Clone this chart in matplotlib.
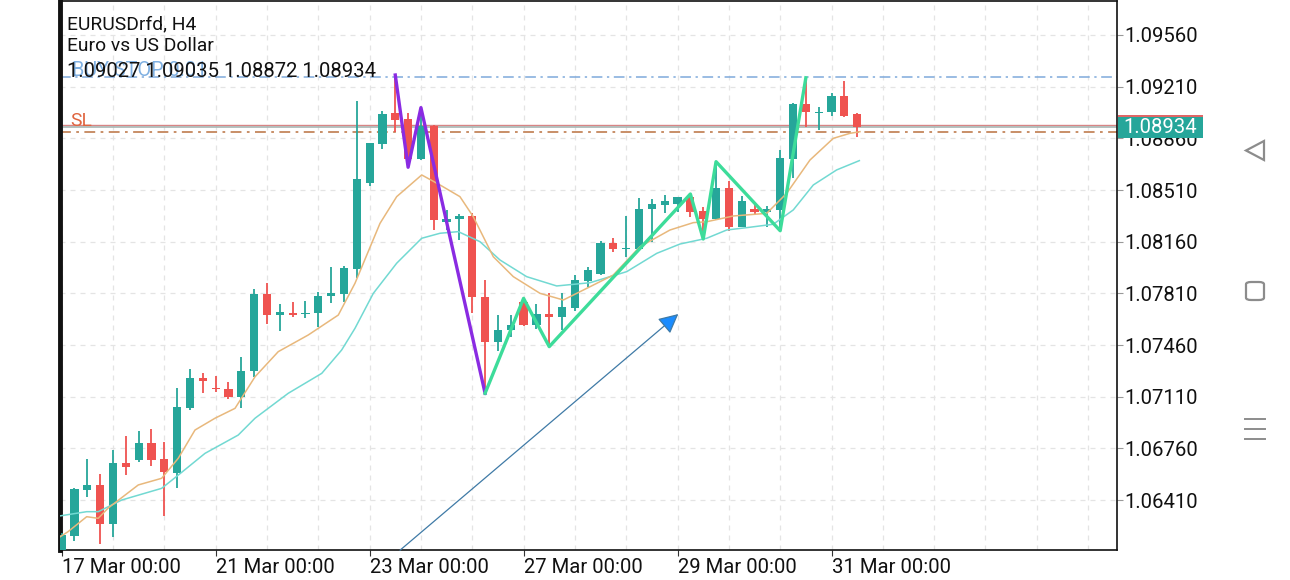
import matplotlib
matplotlib.use("Agg")
import numpy as np
import matplotlib.pyplot as plt
from matplotlib.patches import Rectangle, Polygon, FancyBboxPatch
from matplotlib.lines import Line2D
from matplotlib.transforms import ScaledTranslation, blended_transform_factory
from matplotlib.ticker import FixedLocator, MultipleLocator

plt.rcParams['font.family'] = ['Roboto', 'DejaVu Sans']

# EURUSDrfd H4 candles
opens = [1.06058, 1.06166, 1.06478, 1.06512, 1.06246, 1.06663, 1.06681, 1.06798, 1.06686, 1.06595,
         1.07035, 1.07239, 1.07171, 1.07160, 1.07110, 1.07284, 1.07804, 1.07661, 1.07675, 1.07668,
         1.07675, 1.07792, 1.07804, 1.07973, 1.08555, 1.08822, 1.09030, 1.08989, 1.08720, 1.08946,
         1.08295, 1.08314, 1.08336, 1.07787, 1.07478, 1.07562, 1.07749, 1.07596, 1.07668, 1.07652,
         1.07709, 1.07896, 1.07941, 1.08149, 1.08108, 1.08108, 1.08381, 1.08408, 1.08415, 1.08461,
         1.08368, 1.08314, 1.08526, 1.08261, 1.08381, 1.08363, 1.08375, 1.08720, 1.09093, 1.09034,
         1.09036, 1.09147, 1.09027]
highs = [1.06187, 1.06490, 1.06686, 1.06586, 1.06749, 1.06844, 1.06878, 1.06889, 1.06801, 1.07167,
         1.07298, 1.07272, 1.07250, 1.07211, 1.07377, 1.07837, 1.07878, 1.07736, 1.07749, 1.07760,
         1.07817, 1.07991, 1.07997, 1.09115, 1.08830, 1.09047, 1.09289, 1.09030, 1.09068, 1.08950,
         1.08375, 1.08347, 1.08356, 1.07900, 1.07663, 1.07663, 1.07776, 1.07736, 1.07810, 1.07810,
         1.07934, 1.07986, 1.08167, 1.08183, 1.08334, 1.08458, 1.08449, 1.08476, 1.08465, 1.08483,
         1.08397, 1.08702, 1.08573, 1.08471, 1.08408, 1.08404, 1.08781, 1.09101, 1.09270, 1.09070,
         1.09165, 1.09248, 1.09035]
lows = [1.06031, 1.06132, 1.06432, 1.06110, 1.06162, 1.06579, 1.06668, 1.06640, 1.06304, 1.06489,
        1.07020, 1.07133, 1.07144, 1.07092, 1.07031, 1.07241, 1.07602, 1.07555, 1.07652, 1.07645,
        1.07584, 1.07747, 1.07749, 1.07912, 1.08537, 1.08786, 1.08905, 1.08664, 1.08715, 1.08239,
        1.08239, 1.08171, 1.07675, 1.07133, 1.07420, 1.07516, 1.07590, 1.07566, 1.07449, 1.07562,
        1.07692, 1.07855, 1.07934, 1.08092, 1.08054, 1.08104, 1.08160, 1.08352, 1.08359, 1.08329,
        1.08178, 1.08310, 1.08234, 1.08257, 1.08341, 1.08257, 1.08234, 1.08589, 1.08939, 1.08916,
        1.09013, 1.09003, 1.08872]
closes = [1.06173, 1.06483, 1.06512, 1.06246, 1.06663, 1.06632, 1.06798, 1.06681, 1.06598, 1.07042,
          1.07239, 1.07216, 1.07160, 1.07110, 1.07286, 1.07804, 1.07661, 1.07684, 1.07661, 1.07679,
          1.07792, 1.07810, 1.07980, 1.08583, 1.08826, 1.09025, 1.08984, 1.08718, 1.08946, 1.08307,
          1.08314, 1.08336, 1.07783, 1.07478, 1.07562, 1.07596, 1.07596, 1.07668, 1.07652, 1.07720,
          1.07900, 1.07968, 1.08149, 1.08108, 1.08115, 1.08379, 1.08413, 1.08436, 1.08461, 1.08359,
          1.08314, 1.08526, 1.08257, 1.08436, 1.08359, 1.08381, 1.08725, 1.09093, 1.09036, 1.09040,
          1.09149, 1.09011, 1.08934]

# moving averages (bar position, price)
ma_fast_x = [-0.52, 0.49, 1.95, 2.85, 3.63, 5.97, 7.79, 9.09, 10.39, 11.95, 13.51, 15.07, 16.88,
             19.22, 21.56, 22.86, 24.81, 26.11, 28.06, 29.49, 31.04, 32.08, 33.64, 35.20, 37.28,
             39.10, 41.18, 42.99, 45.07, 47.41, 49.23, 50.27, 52.35, 54.95, 56.51, 58.32, 60.14,
             61.44, 62.22]
ma_fast_y = [1.06139, 1.06195, 1.06297, 1.06286, 1.06356, 1.06512, 1.06557, 1.06693, 1.06884,
             1.06964, 1.07031, 1.07245, 1.07415, 1.07528, 1.07663, 1.07878, 1.08284, 1.08465,
             1.08612, 1.08544, 1.08465, 1.08329, 1.08058, 1.07923, 1.07810, 1.07765, 1.07855,
             1.07934, 1.08126, 1.08239, 1.08289, 1.08295, 1.08334, 1.08352, 1.08488, 1.08713,
             1.08860, 1.08894, 1.08905]
ma_slow_x = [-0.52, 1.95, 2.85, 4.68, 7.79, 9.09, 11.17, 13.76, 15.07, 17.66, 20.27, 21.82, 22.86,
             24.29, 26.11, 28.06, 29.49, 30.91, 32.60, 34.16, 36.24, 38.58, 41.18, 44.04, 46.38,
             48.19, 50.27, 51.83, 53.39, 55.46, 57.02, 58.58, 60.40, 62.17]
ma_slow_y = [1.06297, 1.06331, 1.06331, 1.06410, 1.06489, 1.06579, 1.06726, 1.06850, 1.06964,
             1.07133, 1.07268, 1.07426, 1.07573, 1.07810, 1.08014, 1.08183, 1.08217, 1.08228,
             1.08160, 1.08036, 1.07923, 1.07860, 1.07882, 1.07957, 1.08081, 1.08144, 1.08183,
             1.08239, 1.08255, 1.08278, 1.08375, 1.08544, 1.08646, 1.08709]

# zigzag swings (bar index, price)
zz_down_x = [26, 27, 28, 33]
zz_down_y = [1.09289, 1.08664, 1.09068, 1.07133]
zz_up_x = [33, 36, 38, 49, 50, 51, 56, 58]
zz_up_y = [1.07133, 1.07776, 1.07449, 1.08483, 1.08178, 1.08702, 1.08234, 1.09270]

# trend arrow drawn by hand
arrow_start = (26.37, 1.06070)
arrow_end = (48.06, 1.07670)

buy_stop = 1.09276
sl_level = 1.08903
bid = 1.08934
ask = 1.08947

y_ticks = [1.06410, 1.06760, 1.07110, 1.07460, 1.07810, 1.08160, 1.08510, 1.08860, 1.09210, 1.09560]
x_tick_pos = [0, 12, 24, 36, 48, 60]
x_tick_labels = ['17 Mar 00:00', '21 Mar 00:00', '23 Mar 00:00', '27 Mar 00:00',
                 '29 Mar 00:00', '31 Mar 00:00']

GREEN = '#26a69a'
RED = '#ef5350'
NUM_FS = 14.6
TXT_FS = 13.9

W, H = 1290, 580
fig = plt.figure(figsize=(W / 100, H / 100), dpi=100)
ax = fig.add_axes([60 / W, 30 / H, 1057 / W, 549 / H])

o = np.array(opens); h = np.array(highs); l = np.array(lows); c = np.array(closes)
idx = np.arange(len(o))
cols = np.where(c >= o, GREEN, RED)
ax.vlines(idx, l, h, colors=cols, lw=1.3, zorder=3)
body_lo = np.minimum(o, c)
body_h = np.maximum(np.abs(c - o), 0.00004)
ax.bar(idx, body_h, bottom=body_lo, width=0.64, color=cols, zorder=4)

ax.plot(ma_slow_x, ma_slow_y, color='#72d9d2', lw=1.1, zorder=5)
ax.plot(ma_fast_x, ma_fast_y, color='#e8b87c', lw=1.1, zorder=5)

ax.plot(zz_down_x, zz_down_y, color='#8a2be2', lw=2.4, zorder=6)
ax.plot(zz_up_x, zz_up_y, color='#3ddc9a', lw=2.4, zorder=6)

ax.annotate('', xy=arrow_end, xytext=arrow_start,
            arrowprops=dict(arrowstyle='-|>', ec='#3f7aa6', fc='#1a8cff', lw=0.9,
                            mutation_scale=30, shrinkA=0, shrinkB=0), zorder=6)

ax.axhline(buy_stop, color='#7eaadb', lw=1.1, ls=(0, (7, 3, 1.5, 3)), zorder=2)
ax.axhline(ask, color='#d88585', lw=1.0, zorder=2)
ax.axhline(bid, color='#a8b6b4', lw=1.2, zorder=2)
ax.axhline(sl_level, color='#c4865c', lw=1.3, ls=(0, (6, 3, 1.5, 3)), zorder=2)

ax.set_xlim(-0.13, 82.25)
ax.set_ylim(1.060714, 1.097903)

ax.yaxis.tick_right()
ax.set_yticks(y_ticks)
ax.set_yticklabels([f'{v:.5f}' for v in y_ticks], fontsize=NUM_FS, color='#111111')
ax.xaxis.set_major_locator(FixedLocator(x_tick_pos))
ax.set_xticklabels(x_tick_labels, fontsize=NUM_FS, color='#111111', ha='left')
ax.xaxis.set_minor_locator(MultipleLocator(4))
ax.tick_params(axis='x', which='major', length=4, pad=2, color='#333333')
ax.tick_params(axis='x', which='minor', length=0)
ax.tick_params(axis='y', length=4, pad=1, color='#999999')
ax.grid(True, which='both', color='#e4e4e4', ls=(0, (4, 4)), lw=0.9, zorder=0)

for side in ['top', 'right', 'bottom']:
    ax.spines[side].set_color('#111111')
    ax.spines[side].set_linewidth(1.2)
ax.spines['left'].set_linewidth(3.5)
ax.spines['left'].set_color('#111111')

# price tags on the right scale (ask peeks out above bid)
tr = blended_transform_factory(ax.transAxes, ax.transData)
for price, colr in [(ask, '#e06666'), (bid, GREEN)]:
    off = fig.dpi_scale_trans + ScaledTranslation(1.0, price, tr)
    ax.add_patch(Rectangle((0.01, -0.105), 0.85, 0.21, transform=off, fc=colr, ec='none',
                           clip_on=False, zorder=10))
off = fig.dpi_scale_trans + ScaledTranslation(1.0, bid, tr)
ax.text(0.435, -0.005, f'{bid:.5f}', transform=off, ha='center', va='center', color='white',
        fontsize=NUM_FS, zorder=11, clip_on=False)

# header text
def fy(ypix):
    return 1 - ypix / H

ax.text(0.01, sl_level + 0.00015, 'SL', transform=tr, color='#e0643e', fontsize=TXT_FS,
        va='bottom', ha='left', zorder=7)
fig.text(72 / W, fy(76), 'BUY STOP 0.01', color='#7fb0e2', fontsize=14.3, va='baseline')
fig.text(67 / W, fy(29), 'EURUSDrfd, H4', color='#111111', fontsize=TXT_FS, va='baseline')
fig.text(67 / W, fy(51), 'Euro vs US Dollar', color='#111111', fontsize=TXT_FS, va='baseline')
fig.text(67 / W, fy(77), '1.09027 1.09035 1.08872 1.08934', color='#111111', fontsize=NUM_FS,
         va='baseline')

# phone navigation bar icons
nav = '#8c8c8c'
fig.add_artist(Polygon([(1264 / W, fy(141)), (1246 / W, fy(150.5)), (1264 / W, fy(160))],
                       closed=True, fill=False, ec=nav, lw=1.6, transform=fig.transFigure))
fig.add_artist(FancyBboxPatch((1246 / W, fy(300)), 18 / W, 18 / H,
                              boxstyle='round,pad=0,rounding_size=0.004', fill=False,
                              ec=nav, lw=1.6, transform=fig.transFigure))
for yy in [419, 429, 439]:
    fig.add_artist(Line2D([1245 / W, 1265 / W], [fy(yy), fy(yy)], color=nav, lw=1.4,
                          transform=fig.transFigure))

fig.savefig('out.png', dpi=100)
